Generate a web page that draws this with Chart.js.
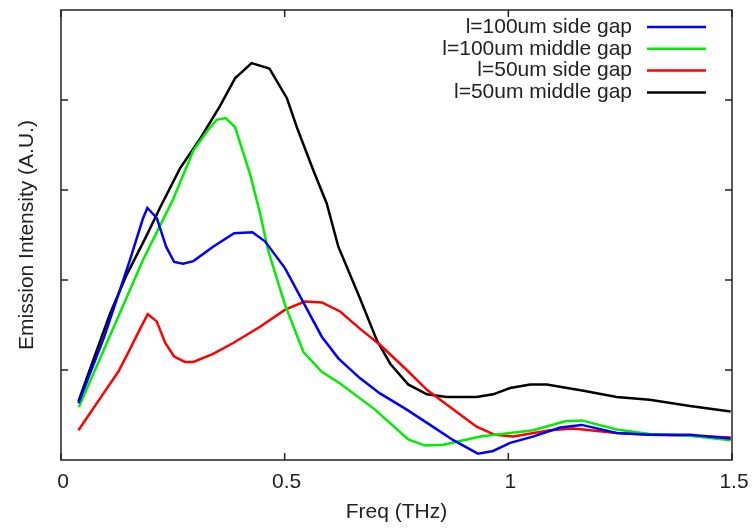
<!DOCTYPE html>
<html>
<head>
<meta charset="utf-8">
<script src="https://cdn.jsdelivr.net/npm/chart.js@4/dist/chart.umd.min.js"></script>
<style>
  body { margin: 0; background: #fff; }
  #wrap { width: 752px; height: 529px; }
</style>
</head>
<body>
<div id="wrap"><canvas id="chart" width="752" height="529"></canvas></div>
<script>
// series labels
const seriesLabels = ['l=100um side gap', 'l=100um middle gap', 'l=50um side gap', 'l=50um middle gap'];
const seriesColors = ['#0000ff', '#00ee00', '#ff0000', '#000000'];

// l=100um side gap
const freqSide100 = [0.039, 0.096, 0.154, 0.183, 0.193, 0.214, 0.235, 0.253, 0.273, 0.296, 0.340, 0.387, 0.428, 0.456, 0.501, 0.583, 0.620, 0.668, 0.713, 0.773, 0.825, 0.877, 0.932, 0.966, 1.004, 1.055, 1.116, 1.164, 1.242, 1.316, 1.406, 1.497];
const side100 = [0.63, 1.36, 2.22, 2.68, 2.80, 2.69, 2.37, 2.20, 2.18, 2.21, 2.37, 2.52, 2.53, 2.43, 2.13, 1.37, 1.13, 0.91, 0.74, 0.56, 0.39, 0.22, 0.07, 0.10, 0.19, 0.26, 0.36, 0.39, 0.30, 0.28, 0.28, 0.24];

// l=100um middle gap
const freqMiddle100 = [0.040, 0.183, 0.250, 0.296, 0.329, 0.348, 0.368, 0.389, 0.423, 0.445, 0.463, 0.501, 0.542, 0.583, 0.624, 0.702, 0.776, 0.814, 0.855, 0.937, 1.004, 1.056, 1.127, 1.164, 1.242, 1.316, 1.406, 1.497];
const middle100 = [0.59, 2.22, 2.89, 3.44, 3.67, 3.78, 3.80, 3.70, 3.17, 2.74, 2.33, 1.72, 1.20, 0.98, 0.85, 0.56, 0.23, 0.16, 0.17, 0.26, 0.30, 0.33, 0.43, 0.44, 0.34, 0.29, 0.27, 0.22];

// l=50um side gap
const freqSide50 = [0.039, 0.095, 0.128, 0.150, 0.177, 0.194, 0.214, 0.233, 0.253, 0.277, 0.296, 0.340, 0.385, 0.445, 0.501, 0.545, 0.583, 0.624, 0.668, 0.713, 0.773, 0.818, 0.877, 0.929, 0.970, 1.011, 1.093, 1.145, 1.242, 1.316, 1.406, 1.497];
const side50 = [0.33, 0.74, 0.98, 1.19, 1.46, 1.62, 1.54, 1.30, 1.15, 1.09, 1.09, 1.18, 1.30, 1.48, 1.67, 1.76, 1.75, 1.65, 1.46, 1.28, 1.00, 0.78, 0.56, 0.37, 0.28, 0.26, 0.33, 0.35, 0.30, 0.28, 0.27, 0.25];

// l=50um middle gap
const freqMiddle50 = [0.039, 0.072, 0.110, 0.147, 0.188, 0.221, 0.266, 0.311, 0.355, 0.389, 0.426, 0.466, 0.505, 0.527, 0.564, 0.594, 0.620, 0.668, 0.706, 0.736, 0.776, 0.818, 0.862, 0.929, 0.966, 1.004, 1.049, 1.086, 1.168, 1.242, 1.316, 1.406, 1.497];
const middle50 = [0.65, 1.11, 1.63, 2.06, 2.46, 2.80, 3.24, 3.57, 3.93, 4.24, 4.41, 4.35, 4.02, 3.70, 3.22, 2.85, 2.37, 1.80, 1.33, 1.07, 0.84, 0.73, 0.70, 0.70, 0.73, 0.80, 0.84, 0.84, 0.77, 0.70, 0.67, 0.60, 0.54];

// axis ticks
const xTicks = [0, 0.5, 1, 1.5];
const xTickLabels = ['0', '0.5', '1', '1.5'];
const yTicks = [1, 2, 3, 4];

const allFreqs = [freqSide100, freqMiddle100, freqSide50, freqMiddle50];
const allVals = [side100, middle100, side50, middle50];

const datasets = seriesLabels.map((label, i) => ({
  label: label,
  data: allFreqs[i].map((f, j) => ({ x: f, y: allVals[i][j] })),
  borderColor: seriesColors[i],
  backgroundColor: seriesColors[i],
  borderWidth: 2.5,
  pointRadius: 0,
  tension: 0,
  fill: false
}));

const textColor = '#222';
const fontFamily = '"Liberation Sans", Arial, sans-serif';
const fontSize = 21;

// frame with inward ticks on all four sides
const framePlugin = {
  id: 'frame',
  afterDraw(chart) {
    const { ctx, chartArea: a, scales } = chart;
    const tl = 7;
    ctx.save();
    ctx.strokeStyle = textColor;
    ctx.lineWidth = 1.5;
    ctx.beginPath();
    xTicks.forEach(v => {
      const px = scales.x.getPixelForValue(v);
      ctx.moveTo(px, a.bottom); ctx.lineTo(px, a.bottom - tl);
      ctx.moveTo(px, a.top); ctx.lineTo(px, a.top + tl);
    });
    yTicks.forEach(v => {
      const py = scales.y.getPixelForValue(v);
      ctx.moveTo(a.left, py); ctx.lineTo(a.left + tl, py);
      ctx.moveTo(a.right, py); ctx.lineTo(a.right - tl, py);
    });
    ctx.stroke();
    ctx.strokeRect(a.left, a.top, a.right - a.left, a.bottom - a.top);
    ctx.restore();
  }
};

// gnuplot style key: right aligned text, sample line to its right
const keyPlugin = {
  id: 'key',
  afterDatasetsDraw(chart) {
    const { ctx, chartArea: a } = chart;
    const lineEnd = a.right - 26;
    const lineStart = lineEnd - 59;
    const textRight = lineStart - 15;
    ctx.save();
    ctx.font = fontSize + 'px ' + fontFamily;
    ctx.textAlign = 'right';
    ctx.textBaseline = 'middle';
    chart.data.datasets.forEach((ds, i) => {
      const y = a.top + 17 + i * 21.8;
      ctx.fillStyle = textColor;
      ctx.fillText(ds.label, textRight, y);
      ctx.strokeStyle = ds.borderColor;
      ctx.lineWidth = 2.5;
      ctx.beginPath();
      ctx.moveTo(lineStart, y);
      ctx.lineTo(lineEnd, y);
      ctx.stroke();
    });
    ctx.restore();
  }
};

new Chart(document.getElementById('chart').getContext('2d'), {
  type: 'line',
  data: { datasets: datasets },
  plugins: [framePlugin, keyPlugin],
  options: {
    responsive: false,
    animation: false,
    layout: { padding: { top: 10, right: 20, left: 0, bottom: 0 } },
    plugins: { legend: { display: false }, tooltip: { enabled: false } },
    scales: {
      x: {
        type: 'linear',
        min: 0,
        max: 1.5,
        grid: { display: false },
        border: { display: false },
        afterBuildTicks: (scale) => { scale.ticks = xTicks.map(v => ({ value: v })); },
        afterFit: (scale) => { scale.height = 69; scale.paddingLeft = 0; scale.paddingRight = 0; },
        ticks: {
          color: textColor, padding: 2, maxRotation: 0, labelOffset: 2,
          font: { size: fontSize, family: fontFamily },
          callback: (v) => xTickLabels[xTicks.indexOf(v)]
        },
        title: { display: true, text: 'Freq (THz)', color: textColor, font: { size: fontSize, family: fontFamily }, padding: { top: 0, bottom: 4 } }
      },
      y: {
        type: 'linear',
        min: 0,
        max: 5,
        grid: { display: false },
        border: { display: false },
        ticks: { display: false, stepSize: 1 },
        afterFit: (scale) => { scale.width = 61; },
        title: { display: true, text: 'Emission Intensity (A.U.)', color: textColor, font: { size: fontSize, family: fontFamily }, padding: { top: 15, bottom: 0 } }
      }
    }
  }
});
</script>
</body>
</html>
